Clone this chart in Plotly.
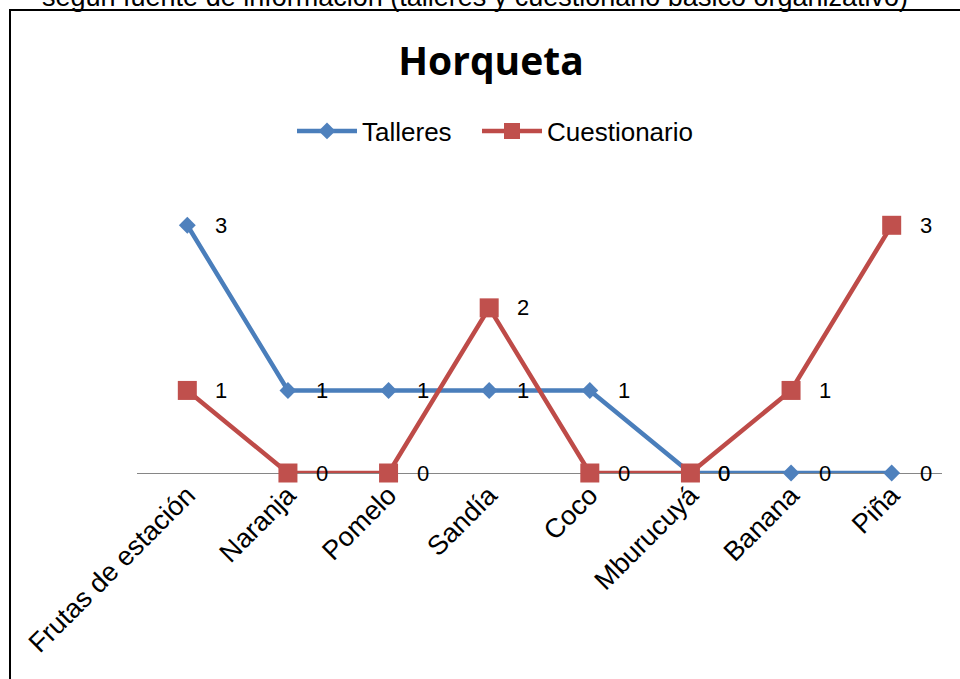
import plotly.graph_objects as go

# Categorías y valores por fuente de información
categorias = ["Frutas de estación", "Naranja", "Pomelo", "Sandía", "Coco",
              "Mburucuyá", "Banana", "Piña"]
talleres = [3, 1, 1, 1, 1, 0, 0, 0]
cuestionario = [1, 0, 0, 2, 0, 0, 1, 3]

AZUL_LINEA, AZUL_MARCA = "#4A7EBB", "#4F81BD"
ROJO_LINEA, ROJO_MARCA = "#BE4B48", "#C0504D"
FUENTE = "Liberation Sans, Arial"

fig = go.Figure()
fig.add_trace(go.Scatter(
    x=categorias, y=talleres, name="Talleres", mode="lines+markers",
    line=dict(color=AZUL_LINEA, width=4.5),
    marker=dict(symbol="diamond", size=13, color=AZUL_MARCA),
    cliponaxis=False, legend="legend", showlegend=True,
))
fig.add_trace(go.Scatter(
    x=categorias, y=cuestionario, name="Cuestionario", mode="lines+markers",
    line=dict(color=ROJO_LINEA, width=4.5),
    marker=dict(symbol="square", size=19, color=ROJO_MARCA),
    cliponaxis=False, legend="legend2", showlegend=True,
))

# Etiquetas de valor a la derecha de cada punto
anotaciones = []
for serie in (talleres, cuestionario):
    for cat, val in zip(categorias, serie):
        anotaciones.append(dict(
            x=cat, y=val, xref="x", yref="y", text=str(val), showarrow=False,
            xshift=34, font=dict(family=FUENTE, size=22, color="#000000"),
        ))

# Texto superior (encabezado de la figura, cortado por el borde de la página)
anotaciones.append(dict(
    x=(475 - 137) / 805, y=1.0, xref="paper", yref="paper", yshift=187,
    text="según fuente de información (talleres y cuestionario básico organizativo)",
    showarrow=False, xanchor="center", yanchor="middle",
    font=dict(family=FUENTE, size=27, color="#000000"),
))

leyenda_base = dict(
    orientation="h", xanchor="left", y=(473 - 131) / 289, yanchor="middle",
    font=dict(family=FUENTE, size=26, color="#000000"),
    itemwidth=60, bgcolor="rgba(0,0,0,0)", visible=True,
)

fig.update_layout(
    width=960, height=679,
    margin=dict(l=137, r=18, t=184, b=206),
    paper_bgcolor="#FFFFFF", plot_bgcolor="#FFFFFF",
    showlegend=True,
    title=dict(
        text="<b>Horqueta</b>", x=491 / 960, xanchor="center",
        y=1 - 61 / 679, yanchor="middle", xref="container", yref="container",
        font=dict(family="Open Sans", size=39, color="#000000"),
    ),
    legend=dict(leyenda_base, x=(292 - 137) / 805),
    legend2=dict(leyenda_base, x=(477 - 137) / 805),
    xaxis=dict(
        type="category", range=[-0.5, 7.5], showgrid=False, zeroline=False,
        showline=False, ticks="", tickangle=-45,
        tickfont=dict(family=FUENTE, size=27, color="#000000"),
    ),
    yaxis=dict(
        range=[0, 3.5], showgrid=False, zeroline=True, zerolinecolor="#868686",
        zerolinewidth=1, showticklabels=False, showline=False, ticks="",
    ),
    annotations=anotaciones,
    shapes=[dict(
        type="rect", xref="paper", yref="paper",
        x0=(10 - 137) / 805, x1=1.2, y0=-1.0, y1=(473 - 10) / 289,
        line=dict(color="#000000", width=2), fillcolor="rgba(0,0,0,0)",
        layer="below",
    )],
)

fig.write_html("out.html")
